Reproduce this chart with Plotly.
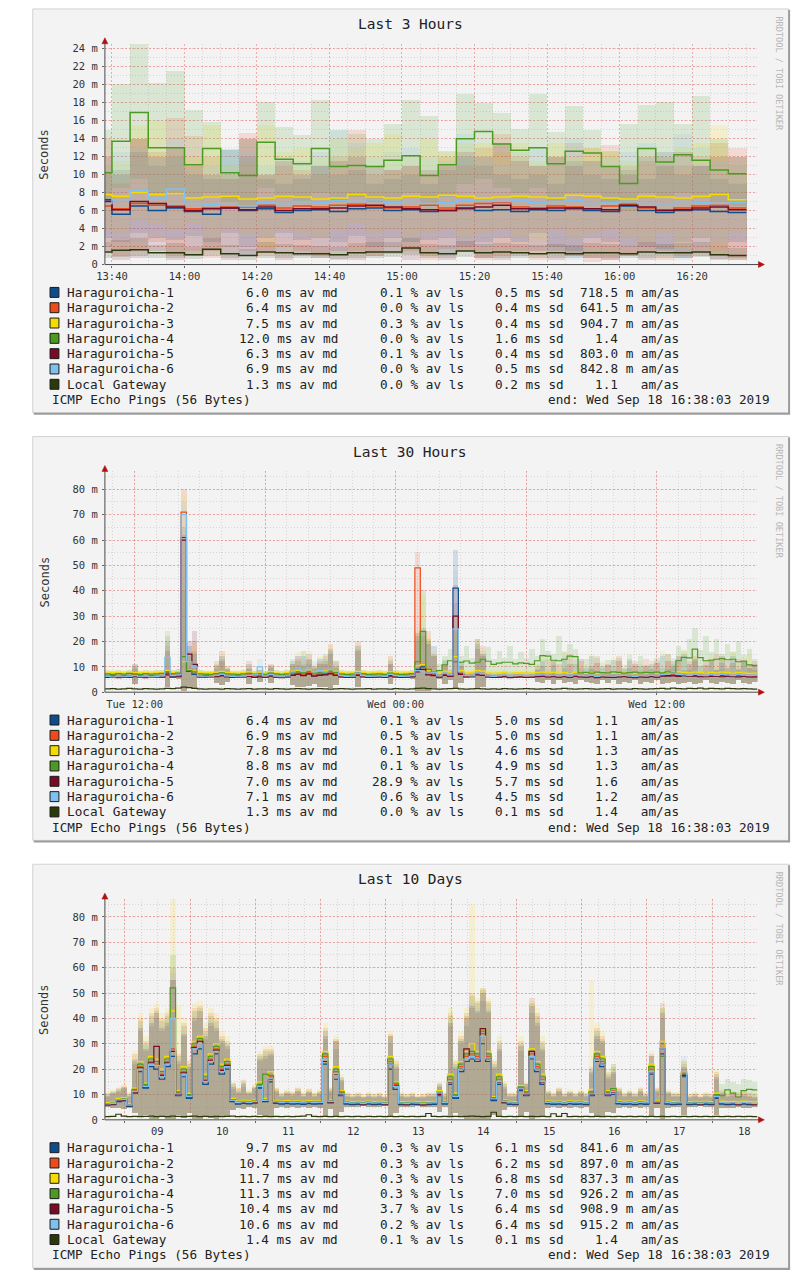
import pandas as pd
import plotly.graph_objects as go

W, H = 798, 1279
MONO = "DejaVu Sans Mono"

HOSTS = ["Haraguroicha-1", "Haraguroicha-2", "Haraguroicha-3", "Haraguroicha-4",
         "Haraguroicha-5", "Haraguroicha-6", "Local Gateway"]
COLORS = ["#0f4c8c", "#ee4a1a", "#f5dc00", "#4c9a22", "#7a0a26", "#80c0ee", "#2c3a0a"]

TITLES = ["Last 3 Hours", "Last 30 Hours", "Last 10 Days"]
FOOTER_LEFT = "ICMP Echo Pings (56 Bytes)"
FOOTER_RIGHT = "end: Wed Sep 18 16:38:03 2019"
CREDIT = "RRDTOOL / TOBI OETIKER"
Y_TITLE = "Seconds"

# ---------------- Last 3 Hours (5-minute bins, first bin 13:35) ----------------
P1_START, P1_FREQ = "2019-09-18 13:35:00", "5min"
P1_RANGE = ["2019-09-18 13:38:03", "2019-09-18 16:38:03"]
P1_TICK0 = "2019-09-18 13:40:00"
Y1_TICKS = [0, 2, 4, 6, 8, 10, 12, 14, 16, 18, 20, 22, 24]
Y1_TEXT = ["0", "2 m", "4 m", "6 m", "8 m", "10 m", "12 m", "14 m", "16 m", "18 m", "20 m", "22 m", "24 m"]

H1_3H_MED = [7.2, 5.6, 6.5, 6.0, 6.3, 5.9, 5.6, 6.3, 6.0, 6.2, 5.8, 6.0,
             6.1, 5.9, 6.2, 6.3, 6.0, 6.1, 5.9, 6.0, 6.2, 6.0, 6.1, 5.9,
             6.1, 6.0, 6.2, 6.0, 5.9, 6.5, 6.0, 5.8, 6.0, 6.1, 5.9, 5.8]
H2_3H_MED = [6.5, 6.2, 6.8, 6.6, 6.5, 6.2, 6.3, 6.5, 6.4, 6.6, 6.3, 6.5,
             6.4, 6.6, 6.7, 6.5, 6.3, 6.4, 6.6, 6.3, 6.6, 6.8, 6.9, 6.4,
             6.3, 6.5, 6.4, 6.2, 6.5, 6.7, 6.3, 6.1, 6.3, 6.5, 6.6, 6.3]
H3_3H_MED = [7.8, 7.6, 8.0, 7.8, 7.9, 7.4, 7.5, 7.6, 7.3, 7.4, 7.6, 7.5,
             7.3, 7.4, 7.8, 7.5, 7.4, 7.6, 7.5, 7.7, 7.6, 7.4, 7.5, 7.6,
             7.5, 7.4, 7.7, 7.6, 7.4, 7.3, 7.6, 7.5, 7.4, 7.6, 7.8, 7.2]
H4_3H_MED = [10.2, 13.7, 16.9, 13.0, 13.0, 11.1, 12.9, 10.2, 9.9, 13.6, 11.7, 11.2,
             12.9, 10.9, 11.0, 10.9, 11.6, 12.1, 9.9, 11.1, 14.0, 14.8, 13.4, 12.7,
             13.0, 11.2, 12.6, 12.4, 10.9, 9.0, 12.9, 11.4, 12.2, 11.6, 10.5, 10.1]
H5_3H_MED = [7.0, 6.1, 7.0, 6.8, 6.4, 6.0, 6.2, 6.3, 6.1, 6.4, 6.0, 6.2,
             6.2, 6.3, 6.5, 6.6, 6.4, 6.2, 6.1, 6.0, 6.3, 6.4, 6.6, 6.2,
             6.2, 6.3, 6.3, 6.2, 6.1, 6.6, 6.4, 6.0, 6.1, 6.3, 6.4, 6.1]
H6_3H_MED = [6.8, 7.2, 8.2, 7.3, 8.4, 6.8, 6.7, 6.6, 6.5, 6.9, 6.8, 7.0,
             6.9, 7.1, 7.0, 7.2, 6.9, 7.0, 6.8, 6.9, 7.1, 7.2, 7.0, 7.1,
             6.9, 7.0, 7.1, 6.8, 6.9, 7.0, 6.8, 6.6, 7.0, 6.9, 6.8, 6.9]
LG_3H_MED = [1.4, 1.6, 1.65, 1.3, 1.3, 1.1, 1.7, 1.2, 1.0, 1.4, 1.3, 1.2,
             1.2, 1.1, 1.3, 1.4, 1.4, 1.85, 1.3, 1.2, 1.5, 1.3, 1.4, 1.3,
             1.2, 1.3, 1.2, 1.3, 1.3, 1.2, 1.4, 1.3, 1.3, 1.4, 1.1, 1.0]

H1_3H_HI = [10.0, 10.5, 12.5, 11.0, 12.0, 10.0, 9.5, 12.8, 12.0, 9.5, 9.0, 9.5,
            11.0, 10.0, 10.5, 9.0, 9.5, 10.0, 9.0, 10.5, 12.0, 11.0, 10.0, 9.5,
            10.0, 9.0, 11.5, 10.0, 9.5, 10.5, 9.5, 12.5, 10.0, 11.0, 9.5, 9.0]
H1_3H_LO = [3.0, 2.5, 3.5, 3.0, 2.8, 3.2, 2.5, 3.5, 2.0, 3.0, 3.5, 2.8,
            3.0, 2.5, 3.2, 2.0, 3.0, 2.5, 2.8, 3.0, 2.0, 2.5, 3.0, 2.5,
            3.5, 2.0, 1.5, 3.0, 2.5, 2.2, 2.0, 1.8, 2.5, 3.0, 2.0, 2.5]
H2_3H_HI = [14.0, 9.0, 14.0, 12.5, 16.3, 14.3, 12.0, 10.0, 14.7, 10.0, 11.0, 10.5,
            10.0, 12.0, 15.0, 10.0, 10.5, 11.0, 10.0, 12.0, 11.0, 13.0, 14.5, 12.0,
            11.0, 12.0, 13.5, 13.0, 13.3, 11.0, 11.5, 12.0, 11.0, 12.0, 13.5, 13.0]
H2_3H_LO = [2.0, 1.0, 1.5, 2.5, 1.0, 1.5, 0.8, 2.0, 1.5, 1.0, 2.0, 1.5,
            1.0, 0.5, 1.5, 1.0, 2.0, 1.5, 0.5, 1.8, 1.5, 0.5, 1.0, 1.5,
            0.5, 1.5, 1.0, 0.3, 0.5, 1.0, 1.5, 0.5, 1.0, 1.5, 1.0, 0.5]
H3_3H_HI = [11.0, 11.5, 15.5, 16.0, 13.0, 12.0, 15.5, 11.0, 11.5, 15.5, 12.5, 13.0,
            12.0, 14.0, 13.0, 13.5, 14.5, 12.0, 14.0, 12.5, 13.5, 13.5, 12.5, 13.5,
            11.5, 13.5, 12.0, 13.0, 12.5, 11.5, 13.0, 12.0, 13.0, 13.5, 15.5, 11.0]
H3_3H_LO = [4.0, 3.5, 5.0, 4.5, 4.0, 4.5, 3.0, 4.0, 3.5, 2.0, 4.0, 3.5,
            3.0, 4.0, 4.5, 3.5, 4.0, 3.0, 3.5, 4.0, 3.0, 3.5, 4.0, 3.0,
            2.5, 4.0, 3.0, 3.5, 4.0, 3.0, 2.5, 3.5, 2.0, 3.0, 1.5, 3.5]
H4_3H_HI = [15.0, 20.1, 24.5, 20.2, 21.6, 17.2, 15.9, 12.9, 14.0, 18.1, 15.3, 14.4,
            18.3, 15.0, 14.5, 14.0, 15.7, 18.3, 16.6, 12.6, 19.0, 18.0, 16.9, 15.1,
            19.0, 14.8, 17.7, 15.0, 12.6, 15.6, 17.8, 18.1, 15.7, 18.8, 14.0, 12.0]
H4_3H_LO = [7.0, 8.5, 9.5, 8.0, 8.0, 7.5, 8.0, 7.0, 6.5, 8.5, 7.5, 7.0,
            8.0, 7.0, 7.5, 7.0, 7.5, 8.0, 6.5, 7.5, 9.0, 9.5, 8.5, 8.0,
            8.5, 7.0, 8.0, 8.0, 7.0, 6.0, 8.0, 7.5, 8.0, 7.5, 7.0, 6.5]
H5_3H_HI = [12.0, 10.0, 14.0, 12.0, 13.0, 11.0, 10.0, 9.5, 14.0, 10.0, 11.5, 10.0,
            11.0, 11.5, 12.0, 11.0, 10.5, 11.0, 10.5, 11.0, 12.5, 12.0, 13.5, 11.5,
            11.0, 12.0, 11.0, 11.5, 11.0, 10.0, 12.0, 11.0, 12.5, 11.0, 12.0, 12.0]
H5_3H_LO = [1.5, 0.5, 0.8, 1.5, 0.5, 1.0, 1.5, 0.5, 1.0, 1.5, 0.5, 1.0,
            0.8, 1.5, 0.5, 1.0, 1.2, 0.5, 1.0, 0.5, 1.5, 0.8, 0.5, 1.0,
            1.5, 0.5, 1.0, 0.8, 0.5, 1.0, 0.5, 1.5, 0.8, 1.0, 0.5, 0.8]
H6_3H_HI = [11.0, 12.5, 13.0, 12.0, 14.0, 10.5, 11.0, 12.8, 12.5, 11.0, 12.0, 11.5,
            12.5, 15.0, 13.5, 12.0, 12.5, 13.0, 12.0, 11.5, 14.5, 12.0, 11.0, 12.5,
            13.0, 12.0, 14.0, 11.5, 12.0, 12.5, 13.5, 12.0, 14.5, 13.0, 11.5, 11.0]
H6_3H_LO = [2.5, 3.0, 2.5, 3.5, 3.0, 2.0, 3.0, 2.0, 1.0, 3.0, 2.5, 3.0,
            2.0, 0.5, 2.5, 3.0, 2.0, 2.5, 3.0, 1.0, 2.5, 2.0, 3.0, 2.5,
            2.0, 1.5, 0.5, 2.5, 3.0, 2.0, 2.5, 1.0, 0.5, 2.0, 2.5, 3.0]
LG_3H_HI = [2.5, 2.8, 3.0, 2.2, 2.4, 2.0, 3.0, 2.2, 1.8, 2.5, 2.3, 2.2,
            2.1, 2.0, 2.4, 2.5, 2.5, 3.0, 2.3, 2.2, 2.6, 2.3, 2.4, 2.3,
            2.2, 2.3, 2.2, 2.4, 2.3, 2.2, 2.5, 2.3, 2.4, 2.5, 2.0, 1.9]
LG_3H_LO = [0.8, 0.9, 1.0, 0.8, 0.8, 0.6, 1.0, 0.7, 0.5, 0.8, 0.8, 0.7,
            0.7, 0.6, 0.8, 0.8, 0.9, 1.1, 0.8, 0.7, 0.9, 0.8, 0.8, 0.8,
            0.7, 0.8, 0.7, 0.8, 0.8, 0.7, 0.8, 0.8, 0.8, 0.9, 0.6, 0.5]

MD_3H = ["6.0", "6.4", "7.5", "12.0", "6.3", "6.9", "1.3"]
LS_3H = ["0.1", "0.0", "0.3", "0.0", "0.1", "0.0", "0.0"]
SD_3H = ["0.5", "0.4", "0.4", "1.6", "0.4", "0.5", "0.2"]
AM_3H = ["718.5", "641.5", "904.7", "1.4", "803.0", "842.8", "1.1"]
AMU_3H = ["m", "m", "m", "", "m", "m", ""]

# ---------------- Last 30 Hours (15-minute bins) ----------------
P2_START, P2_FREQ = "2019-09-17 10:38:03", "15min"
P2_RANGE = ["2019-09-17 10:38:03", "2019-09-18 16:38:03"]
P2_TICKS = ["2019-09-17 12:00", "2019-09-17 18:00", "2019-09-18 00:00", "2019-09-18 06:00", "2019-09-18 12:00"]
P2_TICKTEXT = ["Tue 12:00", "", "Wed 00:00", "", "Wed 12:00"]
Y2_TICKS = [0, 10, 20, 30, 40, 50, 60, 70, 80]
Y2_TEXT = ["0", "10 m", "20 m", "30 m", "40 m", "50 m", "60 m", "70 m", "80 m"]

H1_30H_MED = [6.0, 5.9, 6.1, 5.8, 6.0, 6.3, 5.9, 6.0, 5.8, 6.1, 6.0, 7.5, 6.2, 6.4, 61.0, 8.2, 7.0, 6.1, 6.0, 5.9,
              6.3, 6.6, 6.2, 6.0, 5.9, 6.1, 6.4, 6.0, 6.3, 5.9, 6.5, 6.0, 5.8, 6.1, 6.8, 7.2, 6.7, 7.4, 6.5, 6.9,
              7.0, 7.5, 6.9, 6.1, 5.9, 6.0, 6.8, 6.2, 5.9, 6.0, 6.1, 5.9, 6.5, 6.1, 5.9, 6.0, 6.2, 9.0, 10.0, 7.2,
              6.8, 6.1, 6.9, 6.4, 41.0, 7.5, 6.1, 6.2, 7.2, 6.9, 6.1, 5.9, 6.0, 6.2, 5.8, 6.0, 6.1, 5.9, 6.0, 6.2,
              6.4, 6.1, 6.3, 6.0, 6.2, 5.9, 6.3, 6.1, 6.0, 6.2, 5.8, 6.1, 6.0, 5.9, 6.1, 6.2, 6.0, 5.8, 6.1, 6.0,
              6.2, 6.0, 6.5, 6.3, 6.8, 6.6, 6.4, 6.2, 6.5, 6.3, 6.1, 6.4, 6.2, 6.5, 6.3, 6.1, 6.4, 6.2, 6.0, 6.1]
H2_30H_MED = [6.3, 6.5, 6.2, 6.4, 6.3, 6.7, 6.4, 6.2, 6.5, 6.3, 6.4, 7.9, 6.6, 6.8, 71.0, 9.0, 7.4, 6.3, 6.5, 6.2,
              6.7, 7.0, 6.4, 6.3, 6.4, 6.2, 6.8, 6.4, 6.5, 6.3, 6.9, 6.2, 6.1, 6.5, 7.2, 7.5, 7.1, 7.8, 6.7, 7.2,
              7.4, 7.9, 7.0, 6.3, 6.2, 6.4, 7.1, 6.3, 6.2, 6.4, 6.3, 6.2, 6.9, 6.3, 6.2, 6.4, 6.6, 49.0, 11.0, 7.6,
              7.1, 6.3, 7.2, 6.6, 12.0, 7.7, 6.3, 6.5, 7.5, 7.0, 6.4, 6.2, 6.4, 6.5, 6.1, 6.3, 6.5, 6.2, 6.4, 6.5,
              6.7, 6.3, 6.6, 6.2, 6.5, 6.3, 6.6, 6.3, 6.4, 6.5, 6.1, 6.4, 6.2, 6.3, 6.5, 6.4, 6.3, 6.1, 6.4, 6.3,
              6.6, 6.3, 6.8, 6.5, 7.1, 6.9, 6.6, 6.4, 6.8, 6.6, 6.3, 6.7, 6.5, 6.9, 6.6, 6.4, 6.8, 6.5, 6.3, 6.4]
H3_30H_MED = [7.6, 7.8, 7.7, 7.5, 7.9, 7.8, 7.6, 7.7, 7.5, 7.8, 7.7, 8.6, 7.8, 8.0, 12.0, 8.8, 8.4, 7.8, 7.6, 7.7,
              7.9, 8.2, 7.8, 7.6, 7.5, 7.7, 8.0, 7.6, 7.9, 7.5, 8.1, 7.6, 7.4, 7.7, 8.3, 8.6, 8.2, 8.8, 8.0, 8.3,
              8.4, 8.9, 8.3, 7.7, 7.5, 7.6, 8.2, 7.8, 7.5, 7.6, 7.7, 7.5, 8.0, 7.7, 7.5, 7.6, 7.8, 10.5, 11.0, 8.5,
              8.2, 7.6, 8.3, 7.9, 14.0, 8.6, 7.6, 7.8, 8.5, 8.3, 7.6, 7.5, 7.6, 7.8, 7.4, 7.6, 7.7, 7.5, 7.6, 7.8,
              7.9, 7.6, 7.8, 7.5, 7.7, 7.4, 7.8, 7.6, 7.5, 7.7, 7.3, 7.6, 7.5, 7.4, 7.6, 7.7, 7.5, 7.3, 7.6, 7.5,
              7.7, 7.5, 7.9, 7.8, 8.1, 8.0, 7.8, 7.6, 7.9, 7.7, 7.5, 7.8, 7.6, 7.9, 7.7, 7.5, 7.8, 7.6, 7.4, 7.5]
H4_30H_MED = [7.2, 7.0, 7.3, 7.1, 7.4, 7.2, 7.0, 7.3, 7.1, 7.2, 7.4, 8.0, 7.3, 7.5, 14.0, 8.5, 8.0, 7.2, 7.1, 7.0,
              7.3, 7.6, 7.2, 7.1, 7.0, 7.2, 7.4, 7.1, 7.3, 7.0, 7.5, 7.2, 7.0, 7.2, 7.8, 8.0, 7.6, 8.2, 7.5, 7.8,
              7.9, 8.3, 7.7, 7.2, 7.0, 7.1, 7.6, 7.3, 7.0, 7.1, 7.2, 7.0, 7.5, 7.2, 7.0, 7.1, 7.3, 12.0, 24.0, 9.0,
              8.0, 8.5, 10.8, 12.4, 12.0, 11.8, 12.3, 11.5, 11.8, 13.0, 12.2, 11.0, 11.5, 11.8, 11.8, 11.2, 11.6, 11.4, 11.0, 12.4,
              14.4, 14.2, 12.6, 12.4, 13.0, 14.2, 14.0, 7.6, 7.8, 7.5, 7.9, 7.7, 7.6, 8.0, 7.8, 7.5, 7.7, 7.9, 7.6, 7.8,
              7.7, 7.9, 7.6, 8.0, 7.8, 12.4, 13.7, 13.5, 17.0, 13.6, 12.4, 12.6, 13.0, 13.2, 12.8, 13.0, 12.0, 12.2, 10.8, 10.5]
H5_30H_MED = [5.8, 5.9, 5.7, 6.0, 5.8, 6.1, 5.9, 5.7, 5.8, 6.0, 5.9, 6.8, 5.9, 6.1, 60.0, 15.0, 11.0, 6.0, 5.8, 5.9,
              6.1, 6.4, 6.0, 5.8, 5.9, 6.0, 6.2, 5.8, 6.0, 5.9, 6.3, 5.9, 5.7, 6.0, 6.6, 7.0, 6.5, 7.1, 6.3, 6.6,
              6.8, 7.2, 6.6, 6.0, 5.8, 5.9, 6.6, 6.0, 5.8, 5.9, 6.0, 5.8, 6.3, 6.0, 5.8, 5.9, 6.0, 8.0, 9.0, 6.8,
              6.5, 5.9, 6.6, 6.2, 30.0, 7.0, 6.0, 6.1, 6.8, 6.6, 6.0, 5.8, 5.9, 6.1, 5.7, 5.9, 6.0, 5.8, 5.9, 6.1,
              6.2, 6.0, 6.1, 5.9, 6.1, 5.8, 6.2, 6.0, 5.9, 6.1, 5.7, 6.0, 5.9, 5.8, 6.0, 6.1, 5.9, 5.7, 6.0, 5.9,
              6.1, 5.9, 6.3, 6.5, 6.4, 6.2, 6.6, 6.4, 6.3, 6.1, 6.3, 6.2, 6.4, 6.1, 6.3, 6.2, 6.0, 6.2, 6.1, 6.0]
H6_30H_MED = [6.2, 6.0, 6.3, 6.1, 6.2, 6.5, 6.1, 6.3, 6.0, 6.2, 6.4, 13.7, 6.5, 6.8, 70.0, 12.0, 10.0, 6.3, 6.1, 6.0,
              6.6, 7.0, 6.4, 6.2, 6.1, 6.3, 6.6, 6.8, 10.0, 6.4, 6.9, 6.3, 6.1, 6.4, 8.0, 9.5, 8.2, 9.8, 8.0, 8.6,
              8.0, 9.0, 8.2, 6.5, 6.2, 6.3, 7.5, 6.5, 6.2, 6.3, 6.4, 6.2, 7.0, 6.5, 6.2, 6.3, 6.5, 8.5, 8.0, 7.5,
              7.8, 6.4, 7.5, 6.8, 25.0, 8.0, 6.5, 6.4, 7.6, 7.2, 6.4, 6.2, 6.5, 6.7, 6.3, 6.5, 6.6, 6.4, 6.5, 6.7,
              6.8, 6.5, 6.7, 6.4, 6.6, 6.3, 6.8, 6.5, 6.4, 6.6, 6.2, 6.5, 6.4, 6.3, 6.5, 6.6, 6.4, 6.2, 6.5, 6.4,
              6.6, 6.4, 6.9, 7.2, 7.5, 7.0, 6.8, 6.6, 7.0, 6.7, 6.5, 6.9, 6.6, 7.0, 6.8, 6.5, 7.0, 6.7, 6.5, 6.6]
LG_30H_MED = [1.3, 1.4, 1.2, 1.3, 1.5, 1.3, 1.2, 1.4, 1.3, 1.2, 1.3, 1.5, 1.4, 1.6, 2.0, 1.8, 1.5, 1.3, 1.2, 1.3,
              1.3, 1.2, 1.4, 1.3, 1.2, 1.3, 1.4, 1.2, 1.3, 1.3, 1.2, 1.4, 1.3, 1.2, 1.3, 1.4, 1.3, 1.2, 1.3, 1.4,
              1.3, 1.2, 1.3, 1.4, 1.3, 1.2, 1.3, 1.3, 1.4, 1.2, 1.3, 1.3, 1.2, 1.4, 1.3, 1.2, 1.3, 1.5, 1.6, 1.4,
              1.3, 1.2, 1.3, 1.4, 1.5, 1.3, 1.2, 1.3, 1.4, 1.3, 1.2, 1.3, 1.2, 1.4, 1.3, 1.2, 1.3, 1.4, 1.3, 1.2,
              1.3, 1.4, 1.2, 1.3, 1.5, 1.3, 1.2, 1.3, 1.4, 1.3, 1.2, 1.3, 1.4, 1.2, 1.3, 1.3, 1.2, 1.4, 1.3, 1.2,
              1.3, 1.4, 1.5, 1.3, 1.6, 1.4, 1.3, 1.5, 1.4, 1.6, 1.3, 1.5, 1.4, 1.3, 1.5, 1.4, 1.3, 1.4, 1.3, 1.2]

H1_30H_HI = [7.2, 7.1, 7.3, 7.0, 7.2, 11.0, 7.1, 7.2, 7.0, 7.3, 7.2, 20.0, 7.4, 7.8, 65.0, 18.0, 15.0, 7.3, 7.1, 7.0,
             9.0, 14.0, 8.5, 7.1, 7.0, 7.2, 11.0, 7.1, 8.5, 7.0, 10.0, 7.1, 6.9, 7.2, 12.0, 10.5, 14.0, 11.0, 9.0, 13.0,
             12.0, 17.0, 10.0, 7.2, 7.0, 7.1, 18.0, 7.3, 7.0, 7.1, 7.2, 7.0, 12.0, 7.2, 7.0, 7.1, 7.4, 22.0, 25.0, 20.0,
             18.0, 7.2, 12.0, 8.0, 56.0, 12.0, 7.2, 7.3, 19.0, 15.0, 7.2, 7.0, 7.1, 7.3, 6.9, 7.1, 7.2, 7.0, 7.1, 9.0,
             12.0, 7.5, 10.5, 7.2, 13.0, 8.0, 11.0, 7.4, 9.5, 14.0, 7.1, 10.0, 7.5, 12.5, 7.4, 9.0, 13.0, 7.2, 10.0, 8.0,
             11.0, 7.5, 14.0, 9.0, 12.0, 8.0, 15.0, 8.5, 12.0, 10.0, 8.0, 13.0, 8.5, 11.5, 8.0, 14.0, 9.0, 12.0, 9.5, 8.5]
H2_30H_HI = [7.6, 7.5, 7.7, 7.4, 7.6, 10.0, 7.5, 7.6, 7.4, 7.7, 7.6, 18.0, 7.8, 8.1, 80.0, 16.0, 20.0, 7.6, 7.5, 7.4,
             12.0, 16.0, 10.0, 7.5, 7.4, 7.6, 12.0, 7.5, 8.5, 7.4, 11.0, 7.5, 7.3, 7.6, 10.0, 13.0, 11.0, 15.0, 10.0, 12.0,
             14.0, 19.0, 12.0, 7.6, 7.4, 7.5, 20.0, 7.7, 7.4, 7.5, 7.6, 7.4, 14.0, 7.6, 7.4, 7.5, 7.8, 55.0, 22.0, 24.0,
             15.0, 7.6, 11.0, 8.5, 35.0, 10.0, 7.6, 7.7, 21.0, 18.0, 7.6, 7.4, 7.5, 7.7, 7.3, 7.5, 7.6, 7.4, 7.6, 10.0,
             8.0, 13.0, 7.8, 11.0, 7.6, 15.0, 8.0, 12.0, 7.6, 10.0, 13.5, 7.6, 11.0, 7.8, 14.0, 8.0, 7.6, 12.0, 8.5, 13.0,
             7.8, 12.0, 8.0, 15.0, 9.0, 13.0, 7.8, 12.0, 14.0, 8.0, 12.5, 7.8, 15.0, 9.0, 12.0, 8.0, 13.0, 7.8, 11.0, 12.0]
H3_30H_HI = [8.6, 8.5, 8.7, 8.4, 8.8, 10.5, 8.5, 8.6, 8.4, 8.7, 8.6, 24.0, 8.7, 9.0, 78.0, 15.0, 18.0, 8.6, 8.4, 8.5,
             11.0, 15.0, 10.0, 8.5, 8.4, 8.6, 10.5, 8.4, 9.0, 8.4, 10.0, 8.5, 8.3, 8.6, 13.0, 15.5, 12.0, 16.0, 11.0, 14.0,
             13.0, 18.0, 11.0, 8.6, 8.4, 8.5, 19.0, 8.7, 8.4, 8.5, 8.6, 8.4, 13.5, 8.6, 8.4, 8.5, 8.7, 24.0, 38.0, 22.0,
             16.0, 8.5, 13.0, 9.0, 30.0, 11.0, 8.5, 8.7, 20.0, 17.0, 8.5, 8.4, 8.5, 8.7, 8.3, 8.5, 8.6, 8.4, 8.5, 11.0,
             14.0, 8.8, 12.0, 9.0, 16.0, 8.8, 13.0, 8.6, 11.0, 15.0, 8.7, 12.0, 8.8, 13.5, 8.6, 11.0, 15.0, 8.7, 12.0, 9.0,
             12.5, 8.8, 16.0, 10.0, 13.0, 9.0, 17.0, 9.5, 13.5, 10.0, 8.8, 14.5, 9.5, 13.0, 8.8, 16.0, 10.0, 13.5, 15.0, 9.0]
H4_30H_HI = [8.4, 8.2, 8.5, 8.3, 8.6, 10.5, 8.2, 8.5, 8.3, 8.4, 8.6, 22.0, 8.5, 8.8, 40.0, 14.0, 16.0, 8.4, 8.3, 8.2,
             10.5, 13.0, 9.5, 8.3, 8.2, 8.4, 9.5, 8.3, 8.6, 8.2, 10.5, 8.4, 8.2, 8.4, 11.0, 12.0, 16.0, 12.5, 10.0, 11.5,
             15.0, 16.0, 12.0, 8.4, 8.2, 8.3, 17.0, 8.5, 8.2, 8.3, 8.4, 8.2, 11.0, 8.4, 8.2, 8.3, 8.5, 20.0, 40.0, 21.0,
             14.0, 11.0, 14.0, 17.0, 24.0, 14.0, 18.0, 13.5, 21.0, 15.0, 17.5, 13.0, 16.0, 13.5, 18.0, 13.0, 15.5, 13.2, 17.0, 14.0,
             21.0, 16.0, 15.0, 22.0, 15.5, 19.0, 17.0, 9.5, 13.0, 10.0, 14.0, 9.5, 12.5, 10.0, 13.5, 9.5, 12.0, 10.0, 14.0, 10.5,
             10.0, 13.5, 9.5, 15.0, 11.0, 18.0, 16.0, 21.0, 25.0, 16.5, 22.0, 15.5, 21.0, 15.0, 19.0, 15.5, 20.0, 14.5, 17.0, 13.0]
H5_30H_HI = [7.0, 6.9, 7.1, 6.8, 7.0, 9.0, 6.9, 7.0, 6.8, 7.1, 7.0, 16.0, 7.1, 7.4, 62.0, 20.0, 24.0, 7.0, 6.9, 6.8,
             10.0, 12.0, 9.0, 6.9, 6.8, 7.0, 9.0, 6.9, 8.0, 6.8, 9.5, 6.9, 6.7, 7.0, 11.0, 14.0, 10.0, 13.0, 9.5, 11.0,
             11.0, 15.0, 9.5, 7.0, 6.8, 6.9, 16.0, 7.1, 6.8, 6.9, 7.0, 6.8, 11.0, 7.0, 6.8, 6.9, 7.2, 23.0, 24.0, 19.0,
             14.0, 7.0, 10.0, 8.0, 42.0, 10.0, 7.0, 7.1, 17.0, 14.0, 7.0, 6.8, 6.9, 7.1, 6.7, 6.9, 7.0, 6.8, 6.9, 8.5,
             10.0, 7.8, 12.0, 7.2, 9.5, 11.0, 7.4, 13.0, 7.2, 9.0, 11.5, 7.3, 10.5, 7.4, 12.0, 7.2, 9.5, 11.0, 7.4, 10.0,
             9.0, 11.5, 7.5, 12.0, 10.0, 14.0, 8.5, 11.0, 13.0, 8.0, 10.5, 12.0, 8.5, 14.0, 9.5, 11.5, 8.5, 12.5, 9.5, 11.0]
H6_30H_HI = [7.6, 7.4, 7.7, 7.5, 7.6, 10.0, 7.5, 7.7, 7.4, 7.6, 7.8, 24.0, 7.9, 8.2, 75.0, 18.0, 14.0, 7.7, 7.5, 7.4,
             11.0, 14.0, 9.0, 7.6, 7.5, 7.7, 10.0, 8.2, 13.0, 7.8, 10.0, 7.7, 7.5, 7.8, 13.0, 14.0, 13.0, 15.0, 12.0, 13.5,
             13.0, 16.0, 11.5, 7.9, 7.6, 7.7, 18.0, 7.9, 7.6, 7.7, 7.8, 7.6, 13.0, 7.9, 7.6, 7.7, 7.9, 20.0, 22.0, 18.0,
             15.0, 7.8, 12.5, 9.0, 48.0, 12.0, 7.9, 7.8, 18.0, 16.0, 7.8, 7.6, 7.9, 8.1, 7.7, 7.9, 8.0, 7.8, 7.9, 10.5,
             13.0, 8.5, 11.0, 8.0, 14.0, 8.5, 12.5, 8.2, 10.0, 13.0, 8.0, 11.5, 8.5, 12.0, 8.2, 10.5, 14.5, 8.0, 11.0, 8.5,
             12.0, 8.5, 15.0, 9.5, 13.5, 9.0, 14.0, 9.5, 12.5, 10.5, 8.5, 13.0, 9.5, 12.0, 8.5, 13.5, 10.0, 12.0, 11.0, 9.5]
SMOKE_LO_30H = [5.4, 5.5, 5.3, 5.4, 5.5, 3.0, 5.4, 5.5, 5.3, 5.4, 5.5, 2.0, 5.4, 5.0, 0.5, 2.0, 1.5, 5.4, 5.5, 5.3,
                3.5, 2.5, 3.8, 5.4, 5.5, 5.3, 3.0, 5.4, 4.0, 5.5, 3.5, 5.4, 5.5, 5.3, 2.5, 2.0, 1.8, 2.2, 3.0, 2.0,
                2.0, 1.5, 2.5, 5.4, 5.5, 5.3, 1.8, 5.4, 5.5, 5.3, 5.4, 5.5, 3.0, 5.4, 5.5, 5.3, 5.0, 0.3, 0.2, 0.5,
                1.5, 5.2, 3.0, 4.5, 1.0, 3.5, 5.4, 5.3, 1.5, 2.0, 5.4, 5.5, 5.3, 5.4, 5.5, 5.3, 5.4, 5.5, 5.3, 4.0,
                3.5, 4.5, 3.0, 4.5, 3.5, 4.0, 3.0, 4.5, 4.0, 3.5, 3.0, 4.5, 3.5, 4.5, 3.0, 4.0, 3.5, 4.5, 3.0, 4.0,
                3.5, 4.5, 3.0, 3.5, 4.0, 3.0, 3.5, 4.0, 3.0, 3.5, 4.5, 3.5, 3.0, 4.0, 3.5, 3.0, 4.5, 3.5, 3.0, 4.0]

MD_30H = ["6.4", "6.9", "7.8", "8.8", "7.0", "7.1", "1.3"]
LS_30H = ["0.1", "0.5", "0.1", "0.1", "28.9", "0.6", "0.0"]
SD_30H = ["5.0", "5.0", "4.6", "4.9", "5.7", "4.5", "0.1"]
AM_30H = ["1.1", "1.1", "1.3", "1.3", "1.6", "1.2", "1.4"]
AMU_30H = ["", "", "", "", "", "", ""]

# ---------------- Last 10 Days (2-hour bins) ----------------
P3_START, P3_FREQ = "2019-09-08 16:38:03", "2h"
P3_RANGE = ["2019-09-08 16:38:03", "2019-09-18 16:38:03"]
P3_DAYS = ["2019-09-09", "2019-09-10", "2019-09-11", "2019-09-12", "2019-09-13",
           "2019-09-14", "2019-09-15", "2019-09-16", "2019-09-17", "2019-09-18"]
P3_DAY_LABELS = ["09", "10", "11", "12", "13", "14", "15", "16", "17", "18"]

H1_10D_MED = [5.8, 6.0, 7.2, 7.5, 5.3, 10.5, 19.0, 12.5, 21.0, 20.0,
              16.0, 21.0, 25.0, 9.5, 17.0, 8.5, 26.0, 28.0, 14.0, 22.0,
              26.0, 18.0, 20.0, 7.2, 6.2, 6.5, 6.3, 6.6, 12.5, 7.2,
              15.0, 6.5, 6.2, 6.4, 6.2, 6.3, 6.1, 6.4, 6.2, 6.3,
              22.0, 6.7, 16.0, 9.5, 6.2, 6.0, 6.1, 5.9, 6.2, 6.0,
              6.1, 5.9, 20.0, 12.0, 6.0, 5.9, 6.1, 6.0, 5.8, 6.0,
              6.1, 9.5, 6.2, 14.0, 8.5, 19.0, 23.0, 24.0, 23.0, 30.0,
              23.0, 7.6, 14.0, 6.7, 6.1, 6.0, 11.5, 9.5, 24.0, 19.0,
              14.0, 6.3, 6.1, 6.2, 6.0, 6.3, 6.1, 6.2, 6.0, 9.5,
              23.0, 21.0, 9.5, 10.0, 6.3, 6.1, 6.2, 6.0, 6.3, 6.1,
              18.0, 6.5, 26.0, 6.2, 6.0, 6.1, 17.0, 6.0, 6.1, 5.9,
              6.1, 6.0, 8.5, 6.2, 6.0, 6.1, 5.9, 6.2, 6.0, 5.9]
H2_10D_MED = [6.2, 6.4, 7.8, 8.0, 5.7, 11.5, 21.0, 13.5, 23.0, 22.0,
              18.0, 23.0, 28.0, 10.5, 19.0, 9.5, 29.0, 31.0, 16.0, 24.0,
              28.0, 20.0, 22.0, 7.8, 6.7, 7.0, 6.8, 7.1, 13.5, 7.8,
              17.0, 7.0, 6.7, 6.9, 6.7, 6.8, 6.6, 6.9, 6.7, 6.8,
              25.0, 7.2, 19.0, 10.5, 6.7, 6.5, 6.6, 6.4, 6.7, 6.5,
              6.6, 6.4, 23.0, 14.0, 6.5, 6.4, 6.6, 6.5, 6.3, 6.5,
              6.6, 10.5, 6.7, 16.0, 9.5, 21.0, 25.0, 26.0, 25.0, 34.0,
              25.0, 8.4, 16.0, 7.2, 6.6, 6.5, 12.5, 10.5, 26.0, 21.0,
              16.0, 6.8, 6.6, 6.7, 6.5, 6.8, 6.6, 6.7, 6.5, 10.5,
              25.0, 23.0, 10.5, 11.5, 6.8, 6.6, 6.7, 6.5, 6.8, 6.6,
              20.0, 7.0, 30.0, 6.7, 6.5, 6.6, 18.5, 6.5, 6.6, 6.4,
              6.6, 6.5, 9.5, 6.7, 6.5, 6.6, 6.4, 6.7, 6.5, 6.4]
H3_10D_MED = [6.8, 7.0, 8.5, 8.8, 6.3, 12.5, 23.0, 14.5, 25.0, 24.0,
              20.0, 25.0, 43.0, 11.5, 21.0, 10.5, 31.0, 33.0, 18.0, 26.0,
              30.0, 22.0, 24.0, 8.5, 7.4, 7.7, 7.5, 7.8, 15.0, 8.5,
              19.0, 7.7, 7.4, 7.6, 7.4, 7.5, 7.3, 7.6, 7.4, 7.5,
              27.0, 7.9, 21.0, 11.5, 7.4, 7.2, 7.3, 7.1, 7.4, 7.2,
              7.3, 7.1, 25.0, 15.0, 7.2, 7.1, 7.3, 7.2, 7.0, 7.2,
              7.3, 11.5, 7.4, 18.0, 10.5, 23.0, 27.0, 30.0, 27.0, 36.0,
              27.0, 9.2, 18.0, 7.9, 7.3, 7.2, 13.5, 11.5, 28.0, 23.0,
              18.0, 7.5, 7.3, 7.4, 7.2, 7.5, 7.3, 7.4, 7.2, 12.0,
              27.0, 25.0, 11.5, 12.5, 7.5, 7.3, 7.4, 7.2, 7.5, 7.3,
              22.0, 7.7, 31.0, 7.4, 7.2, 7.3, 19.0, 7.2, 7.3, 7.1,
              7.3, 7.2, 10.5, 7.4, 7.2, 7.3, 7.1, 7.4, 7.2, 7.1]
H4_10D_MED = [6.4, 6.6, 8.0, 8.3, 5.9, 12.0, 22.0, 14.0, 24.0, 23.0,
              19.0, 24.0, 52.0, 11.0, 20.0, 10.0, 30.0, 32.0, 17.0, 25.0,
              29.0, 21.0, 23.0, 8.0, 7.0, 7.3, 7.1, 7.4, 14.0, 18.0,
              17.5, 7.3, 7.0, 7.2, 7.0, 7.1, 6.9, 7.2, 7.0, 7.1,
              26.0, 7.5, 20.0, 11.0, 7.0, 6.8, 6.9, 6.7, 7.0, 6.8,
              6.9, 6.7, 24.0, 14.5, 6.8, 6.7, 6.9, 6.8, 6.6, 6.8,
              6.9, 11.0, 7.0, 17.0, 10.0, 22.0, 26.0, 27.0, 26.0, 35.0,
              26.0, 8.8, 17.0, 7.5, 6.9, 6.8, 13.0, 11.0, 27.0, 22.0,
              17.0, 7.1, 6.9, 7.0, 6.8, 7.1, 6.9, 7.0, 6.8, 11.0,
              26.0, 24.0, 11.0, 12.4, 7.1, 6.9, 7.0, 6.8, 7.1, 6.9,
              21.0, 7.3, 25.0, 7.0, 6.8, 6.9, 18.0, 6.8, 6.9, 6.7,
              6.9, 6.8, 10.0, 9.5, 11.8, 10.5, 9.0, 11.5, 12.0, 11.8]
H5_10D_MED = [6.1, 6.3, 7.6, 7.9, 5.6, 11.0, 20.5, 13.0, 22.5, 29.0,
              17.5, 22.5, 27.0, 10.0, 18.5, 9.0, 28.5, 31.0, 15.5, 23.5,
              27.5, 19.5, 21.5, 7.6, 6.6, 6.9, 6.7, 7.0, 13.0, 7.6,
              16.0, 6.9, 6.6, 6.8, 6.6, 6.7, 6.5, 6.8, 6.6, 6.7,
              23.0, 7.1, 18.0, 10.0, 6.6, 6.4, 6.5, 6.3, 6.6, 6.4,
              6.5, 6.3, 22.0, 13.5, 6.4, 6.3, 6.5, 6.4, 6.2, 6.4,
              6.5, 10.0, 6.6, 15.0, 9.0, 20.0, 28.0, 25.0, 24.0, 36.0,
              24.0, 8.1, 15.0, 7.1, 6.5, 6.4, 12.0, 10.0, 27.0, 20.0,
              15.0, 6.7, 6.5, 6.6, 6.4, 6.7, 6.5, 6.6, 6.4, 10.0,
              24.0, 22.0, 10.0, 11.0, 6.7, 6.5, 6.6, 6.4, 6.7, 6.5,
              19.0, 6.9, 28.0, 6.6, 6.4, 6.5, 17.5, 6.4, 6.5, 6.3,
              6.5, 6.4, 9.0, 6.6, 6.4, 6.5, 6.3, 6.6, 6.4, 6.3]
H6_10D_MED = [6.3, 6.5, 7.9, 8.1, 5.8, 11.2, 20.0, 13.2, 22.0, 21.5,
              17.0, 22.0, 40.0, 10.2, 18.0, 9.2, 28.0, 30.0, 15.2, 23.0,
              27.0, 19.0, 21.0, 7.7, 6.8, 7.1, 6.9, 7.2, 13.2, 7.7,
              16.2, 7.1, 6.8, 7.0, 6.8, 6.9, 6.7, 7.0, 6.8, 6.9,
              24.0, 7.3, 18.2, 10.2, 6.8, 6.6, 6.7, 6.5, 6.8, 6.6,
              6.7, 6.5, 22.0, 13.2, 6.6, 6.5, 6.7, 6.6, 6.4, 6.6,
              6.7, 11.0, 6.8, 15.2, 9.2, 20.0, 24.0, 25.0, 24.0, 33.0,
              24.0, 8.3, 15.2, 7.3, 6.7, 6.6, 12.2, 10.2, 25.0, 20.0,
              15.2, 6.9, 6.7, 6.8, 6.6, 6.9, 6.7, 6.8, 6.6, 10.2,
              24.0, 22.0, 10.2, 11.2, 6.9, 6.7, 6.8, 6.6, 6.9, 6.7,
              19.0, 7.1, 28.0, 6.8, 6.6, 6.7, 19.0, 6.6, 6.7, 6.5,
              6.7, 6.6, 9.2, 6.8, 6.6, 6.7, 6.5, 6.8, 6.6, 6.5]
LG_10D_MED = [1.3, 1.4, 2.2, 1.5, 1.3, 1.4, 1.3, 1.4, 1.5, 1.3,
              1.4, 1.3, 1.5, 1.4, 1.3, 1.4, 1.5, 1.3, 1.4, 1.3,
              1.4, 1.3, 1.4, 1.5, 1.3, 1.4, 1.3, 1.4, 1.3, 1.4,
              1.3, 1.4, 1.3, 1.4, 1.3, 1.4, 1.5, 2.0, 1.4, 1.3,
              1.4, 1.3, 1.4, 1.3, 1.4, 1.3, 1.4, 1.3, 1.4, 1.3,
              1.4, 1.3, 1.4, 1.3, 1.4, 1.3, 1.4, 1.3, 1.4, 2.5,
              1.4, 1.3, 1.4, 1.3, 1.4, 1.3, 1.4, 1.5, 1.4, 1.3,
              1.4, 3.0, 1.4, 1.3, 1.4, 1.3, 1.4, 1.3, 1.4, 1.3,
              1.4, 1.3, 2.4, 1.4, 2.5, 1.3, 1.4, 1.3, 1.4, 1.3,
              1.4, 1.3, 1.4, 1.3, 1.4, 1.3, 1.4, 1.3, 1.4, 1.3,
              1.4, 1.3, 1.4, 1.3, 1.4, 1.3, 1.4, 1.3, 1.4, 1.3,
              1.4, 1.3, 1.4, 1.3, 1.4, 1.3, 1.4, 1.3, 1.4, 1.3]

H1_10D_HI = [9.0, 10.0, 11.0, 12.0, 9.0, 22.0, 35.0, 27.0, 37.0, 40.0,
             35.0, 37.0, 55.0, 22.0, 33.0, 20.0, 39.0, 40.0, 32.0, 37.0,
             35.0, 30.0, 28.0, 12.0, 10.5, 13.0, 10.0, 12.0, 23.0, 24.0,
             25.0, 11.0, 9.0, 10.0, 9.5, 11.0, 9.0, 10.5, 9.0, 10.0,
             32.0, 11.0, 28.0, 15.0, 9.0, 8.5, 9.0, 8.5, 9.0, 8.5,
             9.0, 8.5, 30.0, 20.0, 9.0, 8.5, 9.0, 8.5, 8.5, 9.0,
             9.0, 13.0, 9.0, 37.0, 20.0, 30.0, 37.0, 44.0, 42.0, 47.0,
             42.0, 20.0, 27.0, 12.0, 9.0, 9.0, 27.0, 13.0, 42.0, 37.0,
             27.0, 10.0, 9.0, 11.0, 9.0, 10.0, 9.0, 10.0, 9.0, 18.0,
             32.0, 30.0, 16.0, 18.0, 11.0, 9.0, 10.0, 9.0, 11.0, 9.0,
             22.0, 11.0, 40.0, 10.0, 9.0, 9.0, 20.0, 8.5, 9.0, 8.5,
             9.0, 8.5, 16.0, 10.0, 9.0, 9.5, 9.0, 9.5, 9.0, 8.5]
H2_10D_HI = [10.5, 11.5, 12.5, 13.5, 10.5, 26.0, 40.0, 31.0, 42.0, 44.0,
             40.0, 42.0, 60.0, 26.0, 38.0, 23.0, 44.0, 45.0, 36.0, 42.0,
             40.0, 33.0, 31.0, 14.5, 12.5, 15.5, 11.5, 13.5, 26.0, 28.0,
             28.0, 12.5, 10.5, 11.5, 11.0, 12.5, 10.5, 12.0, 10.5, 11.5,
             36.0, 12.5, 32.0, 17.0, 10.5, 10.0, 10.5, 9.5, 10.5, 10.0,
             10.5, 9.5, 34.0, 23.0, 10.5, 10.0, 10.5, 9.5, 10.0, 10.5,
             10.5, 14.5, 10.5, 42.0, 23.0, 33.0, 42.0, 50.0, 47.0, 52.0,
             47.0, 23.0, 31.0, 14.5, 10.5, 10.5, 31.0, 14.5, 48.0, 42.0,
             31.0, 11.5, 10.5, 12.5, 10.5, 11.5, 10.5, 11.5, 10.5, 21.0,
             36.0, 33.0, 19.0, 21.0, 12.5, 10.5, 11.5, 10.5, 12.5, 10.5,
             26.0, 12.5, 46.0, 11.5, 10.5, 10.5, 23.0, 10.0, 10.5, 9.5,
             10.5, 10.0, 19.0, 11.5, 10.5, 11.0, 10.5, 11.0, 10.5, 10.0]
H3_10D_HI = [11.0, 12.0, 13.0, 14.0, 11.0, 27.0, 42.0, 33.0, 44.0, 46.0,
             42.0, 44.0, 88.0, 45.0, 40.0, 24.0, 46.0, 47.0, 38.0, 44.0,
             42.0, 35.0, 33.0, 15.0, 13.0, 16.0, 12.0, 14.0, 27.0, 29.0,
             29.0, 13.0, 11.0, 12.0, 11.5, 13.0, 11.0, 12.5, 11.0, 12.0,
             38.0, 13.0, 33.0, 18.0, 11.0, 10.5, 11.0, 10.0, 11.0, 10.5,
             11.0, 10.0, 35.0, 24.0, 11.0, 10.5, 11.0, 10.0, 10.5, 11.0,
             11.0, 15.0, 11.0, 44.0, 24.0, 35.0, 44.0, 85.0, 48.0, 52.0,
             48.0, 24.0, 33.0, 15.0, 11.0, 11.0, 33.0, 15.0, 47.0, 44.0,
             33.0, 12.0, 11.0, 13.0, 11.0, 12.0, 11.0, 12.0, 11.0, 55.0,
             38.0, 35.0, 20.0, 22.0, 13.0, 11.0, 12.0, 11.0, 13.0, 11.0,
             27.0, 13.0, 44.0, 12.0, 11.0, 11.0, 24.0, 10.5, 11.0, 10.0,
             11.0, 10.5, 20.0, 12.0, 11.0, 11.5, 11.0, 11.5, 11.0, 10.5]
H4_10D_HI = [10.0, 11.0, 12.0, 13.0, 10.0, 24.0, 39.0, 30.0, 41.0, 43.0,
             39.0, 41.0, 65.0, 25.0, 37.0, 22.0, 43.0, 44.0, 35.0, 41.0,
             39.0, 32.0, 30.0, 14.0, 12.0, 15.0, 11.0, 13.0, 25.0, 27.0,
             27.0, 12.0, 10.0, 11.0, 10.5, 12.0, 10.0, 11.5, 10.0, 11.0,
             35.0, 12.0, 31.0, 16.5, 10.0, 9.5, 10.0, 9.0, 10.0, 9.5,
             10.0, 9.0, 33.0, 22.0, 10.0, 9.5, 10.0, 9.0, 9.5, 10.0,
             10.0, 14.0, 10.0, 41.0, 22.0, 32.0, 41.0, 49.0, 46.0, 51.0,
             46.0, 22.0, 30.0, 14.0, 10.0, 10.0, 30.0, 14.0, 46.0, 41.0,
             30.0, 11.0, 10.0, 12.0, 10.0, 11.0, 10.0, 11.0, 10.0, 20.0,
             35.0, 32.0, 18.0, 22.0, 12.0, 10.0, 11.0, 10.0, 12.0, 10.0,
             25.0, 12.0, 44.0, 11.0, 10.0, 10.0, 22.0, 9.5, 10.0, 9.0,
             10.0, 9.5, 18.0, 14.0, 16.0, 15.0, 14.0, 16.0, 15.5, 15.0]
H5_10D_HI = [9.5, 10.5, 11.5, 12.5, 9.5, 23.0, 36.0, 28.0, 38.0, 42.0,
             36.0, 38.0, 55.0, 23.0, 34.0, 21.0, 40.0, 43.0, 33.0, 38.0,
             36.0, 31.0, 29.0, 13.0, 11.0, 14.0, 10.5, 12.5, 24.0, 25.0,
             26.0, 11.5, 9.5, 10.5, 10.0, 11.5, 9.5, 11.0, 9.5, 10.5,
             33.0, 11.5, 31.0, 15.5, 9.5, 9.0, 9.5, 9.0, 9.5, 9.0,
             9.5, 9.0, 33.0, 21.0, 9.5, 9.0, 9.5, 9.0, 9.0, 9.5,
             9.5, 13.5, 9.5, 38.0, 21.0, 31.0, 40.0, 45.0, 43.0, 50.0,
             43.0, 21.0, 28.0, 13.0, 9.5, 9.5, 29.0, 14.0, 45.0, 38.0,
             28.0, 10.5, 9.5, 11.5, 9.5, 10.5, 9.5, 10.5, 9.5, 19.0,
             33.0, 31.0, 17.0, 19.0, 11.5, 9.5, 10.5, 9.5, 11.5, 9.5,
             25.0, 11.5, 42.0, 10.5, 9.5, 9.5, 21.0, 9.0, 9.5, 9.0,
             9.5, 9.0, 17.0, 10.5, 9.5, 10.0, 9.5, 10.0, 9.5, 9.0]
H6_10D_HI = [10.0, 11.0, 12.0, 13.0, 10.0, 24.0, 37.0, 29.0, 39.0, 41.0,
             37.0, 39.0, 58.0, 24.0, 35.0, 22.0, 41.0, 42.0, 34.0, 39.0,
             37.0, 31.0, 29.0, 13.5, 11.5, 14.5, 10.5, 12.5, 24.5, 26.0,
             26.5, 11.5, 10.0, 10.5, 10.0, 11.5, 9.5, 11.0, 9.5, 10.5,
             35.0, 11.5, 30.0, 15.5, 10.0, 9.5, 10.0, 9.0, 10.0, 9.5,
             10.0, 9.0, 32.0, 21.5, 10.0, 9.5, 10.0, 9.0, 9.5, 10.0,
             10.0, 14.0, 10.0, 39.0, 21.5, 31.0, 39.0, 46.0, 44.0, 49.0,
             44.0, 21.5, 29.0, 13.5, 10.0, 10.0, 29.0, 13.5, 44.0, 39.0,
             29.0, 11.0, 10.0, 11.5, 10.0, 11.0, 10.0, 11.0, 10.0, 19.5,
             34.0, 31.0, 17.5, 19.5, 11.5, 10.0, 11.0, 10.0, 11.5, 10.0,
             24.0, 11.5, 43.0, 11.0, 10.0, 10.0, 25.0, 9.5, 10.0, 9.0,
             10.0, 9.5, 17.5, 11.0, 10.0, 10.5, 10.0, 10.5, 10.0, 9.5]
SMOKE_LO_10D = [5.0, 4.8, 4.5, 4.3, 4.8, 2.5, 1.0, 2.0, 0.5, 0.3,
                1.0, 0.5, 0.2, 2.0, 0.8, 2.5, 0.5, 0.3, 1.5, 0.8,
                0.5, 1.5, 1.0, 4.0, 4.8, 4.2, 5.0, 4.5, 2.0, 1.5,
                1.5, 4.8, 5.1, 4.8, 5.0, 4.8, 5.1, 4.8, 5.0, 4.8,
                1.0, 4.2, 1.5, 3.0, 5.0, 5.2, 5.1, 5.3, 5.0, 5.2,
                5.1, 5.3, 1.0, 2.5, 5.1, 5.2, 5.0, 5.3, 5.2, 5.0,
                5.1, 3.0, 5.0, 1.0, 2.5, 1.0, 0.5, 0.3, 0.5, 0.2,
                0.5, 2.0, 1.0, 4.0, 5.0, 5.1, 1.5, 3.0, 0.5, 1.0,
                1.5, 4.8, 5.0, 4.8, 5.1, 4.8, 5.0, 4.8, 5.1, 2.5,
                1.0, 1.5, 3.0, 2.5, 4.8, 5.1, 4.8, 5.0, 4.8, 5.1,
                1.5, 4.8, 0.5, 4.8, 5.1, 5.0, 2.0, 5.2, 5.1, 5.3,
                5.0, 5.2, 2.0, 4.8, 4.5, 4.8, 5.0, 4.5, 4.8, 5.0]

MD_10D = ["9.7", "10.4", "11.7", "11.3", "10.4", "10.6", "1.4"]
LS_10D = ["0.3", "0.3", "0.3", "0.3", "3.7", "0.2", "0.1"]
SD_10D = ["6.1", "6.2", "6.8", "7.0", "6.4", "6.4", "0.1"]
AM_10D = ["841.6", "897.0", "837.3", "926.2", "908.9", "915.2", "1.4"]
AMU_10D = ["m", "m", "m", "m", "m", "m", ""]

# ---------------- assemble ----------------
def X(px):
    return px / W

def Y(py):
    return 1 - py / H

PANELS = [
    dict(start=P1_START, freq=P1_FREQ,
         med=[H1_3H_MED, H2_3H_MED, H3_3H_MED, H4_3H_MED, H5_3H_MED, H6_3H_MED, LG_3H_MED],
         hi=[H1_3H_HI, H2_3H_HI, H3_3H_HI, H4_3H_HI, H5_3H_HI, H6_3H_HI, LG_3H_HI],
         lo=[H1_3H_LO, H2_3H_LO, H3_3H_LO, H4_3H_LO, H5_3H_LO, H6_3H_LO, LG_3H_LO],
         stats=(MD_3H, LS_3H, SD_3H, AM_3H, AMU_3H), lw=1.5, op=0.14),
    dict(start=P2_START, freq=P2_FREQ,
         med=[H1_30H_MED, H2_30H_MED, H3_30H_MED, H4_30H_MED, H5_30H_MED, H6_30H_MED, LG_30H_MED],
         hi=[H1_30H_HI, H2_30H_HI, H3_30H_HI, H4_30H_HI, H5_30H_HI, H6_30H_HI],
         lo=[SMOKE_LO_30H] * 6,
         stats=(MD_30H, LS_30H, SD_30H, AM_30H, AMU_30H), lw=1.2, op=0.14),
    dict(start=P3_START, freq=P3_FREQ,
         med=[H1_10D_MED, H2_10D_MED, H3_10D_MED, H4_10D_MED, H5_10D_MED, H6_10D_MED, LG_10D_MED],
         hi=[H1_10D_HI, H2_10D_HI, H3_10D_HI, H4_10D_HI, H5_10D_HI, H6_10D_HI],
         lo=[SMOKE_LO_10D] * 6,
         stats=(MD_10D, LS_10D, SD_10D, AM_10D, AMU_10D), lw=1.2, op=0.14),
]

fig = go.Figure()
shapes, annos = [], []
NB = "\u00a0"
ROW0, ROWH = 293.0, 15.4

for k, p in enumerate(PANELS):
    o = 430 * k
    xa = "x" if k == 0 else f"x{k+1}"
    ya = "y" if k == 0 else f"y{k+1}"
    step = pd.Timedelta(p["freq"])
    wms = step / pd.Timedelta("1ms")
    for h, (hi, lo) in enumerate(zip(p["hi"], p["lo"])):
        n = min(len(hi), len(lo))
        t = pd.date_range(p["start"], periods=n, freq=p["freq"])
        fig.add_trace(go.Bar(x=t, y=[hi[i] - lo[i] for i in range(n)], base=lo[:n],
                             width=wms, offset=0, xaxis=xa, yaxis=ya,
                             marker=dict(color=COLORS[h], line=dict(width=0)),
                             opacity=p["op"], hoverinfo="skip", showlegend=False))
    for h, med in enumerate(p["med"]):
        t = pd.date_range(p["start"], periods=len(med), freq=p["freq"])
        xs = list(t) + [t[-1] + step]
        ys = list(med) + [med[-1]]
        fig.add_trace(go.Scatter(x=xs, y=ys, mode="lines", line=dict(color=COLORS[h], width=p["lw"], shape="hv"),
                                 xaxis=xa, yaxis=ya, hoverinfo="skip", showlegend=False))

    shapes.append(dict(type="rect", xref="paper", yref="paper", x0=X(24), x1=X(789), y0=Y(414 + o), y1=Y(8 + o),
                       fillcolor="#f3f3f3", line=dict(color="#d2d2d2", width=1), layer="below"))
    shapes.append(dict(type="line", xref="paper", yref="paper", x0=X(789), x1=X(789), y0=Y(415 + o), y1=Y(9 + o),
                       line=dict(color="#9c9c9c", width=2), layer="below"))
    shapes.append(dict(type="line", xref="paper", yref="paper", x0=X(25), x1=X(790), y0=Y(415 + o), y1=Y(415 + o),
                       line=dict(color="#9c9c9c", width=2), layer="below"))
    shapes.append(dict(type="line", xref="paper", yref="paper", x0=X(97), x1=X(97), y0=Y(265 + o), y1=Y(41 + o),
                       line=dict(color="#4a4a4a", width=1)))
    shapes.append(dict(type="line", xref="paper", yref="paper", x0=X(97), x1=X(760), y0=Y(265 + o), y1=Y(265 + o),
                       line=dict(color="#4a4a4a", width=1)))
    shapes.append(dict(type="path", xref="paper", yref="paper",
                       path=f"M {X(97)},{Y(37 + o)} L {X(94)},{Y(43 + o)} L {X(100)},{Y(43 + o)} Z",
                       fillcolor="#b01010", line=dict(color="#b01010", width=0.5)))
    shapes.append(dict(type="path", xref="paper", yref="paper",
                       path=f"M {X(764)},{Y(265 + o)} L {X(758)},{Y(262 + o)} L {X(758)},{Y(268 + o)} Z",
                       fillcolor="#b01010", line=dict(color="#b01010", width=0.5)))

    annos.append(dict(text=TITLES[k], x=X(406), y=Y(23 + o), xref="paper", yref="paper", showarrow=False,
                      xanchor="center", yanchor="middle", font=dict(family=MONO, size=14.5, color="#222")))
    annos.append(dict(text=Y_TITLE, x=X(36), y=Y(154 + o), xref="paper", yref="paper", showarrow=False,
                      textangle=-90, xanchor="center", yanchor="middle", font=dict(family=MONO, size=12, color="#333")))
    annos.append(dict(text=CREDIT, x=X(779), y=Y(73 + o), xref="paper", yref="paper", showarrow=False,
                      textangle=90, xanchor="center", yanchor="middle", font=dict(family=MONO, size=8.6, color="#b8b8b8")))

    md, ls, sd, am, amu = p["stats"]
    for r, name in enumerate(HOSTS):
        yy = ROW0 + ROWH * r + o
        shapes.append(dict(type="rect", xref="paper", yref="paper", x0=X(41.5), x1=X(50.5), y0=Y(yy + 5), y1=Y(yy - 5),
                           fillcolor=COLORS[r], line=dict(color="#1a1a1a", width=1)))
        cols = [(name, 57, "left"),
                (f"{md[r]} ms av md", 335, "right"),
                (f"{ls[r]} % av ls", 462, "right"),
                (f"{sd[r]} ms sd", 563, "right"),
                (f"{am[r]}{NB}{amu[r] if amu[r] else NB}{NB}am/as", 680, "right")]
        for txt, xx, anc in cols:
            annos.append(dict(text=txt.replace(" ", NB), x=X(xx), y=Y(yy), xref="paper", yref="paper", showarrow=False,
                              xanchor=anc, yanchor="middle", font=dict(family=MONO, size=12.7, color="#222")))
    yy = ROW0 + ROWH * 7 + o
    annos.append(dict(text=FOOTER_LEFT.replace(" ", NB), x=X(41.5), y=Y(yy), xref="paper", yref="paper", showarrow=False,
                      xanchor="left", yanchor="middle", font=dict(family=MONO, size=12.7, color="#222")))
    annos.append(dict(text=FOOTER_RIGHT.replace(" ", NB), x=X(772), y=Y(yy), xref="paper", yref="paper", showarrow=False,
                      xanchor="right", yanchor="middle", font=dict(family=MONO, size=12.7, color="#222")))

for d, lab in zip(P3_DAYS, P3_DAY_LABELS):
    annos.append(dict(text=lab, x=pd.Timestamp(d) + pd.Timedelta("12h"), y=Y(276 + 860), xref="x3", yref="paper",
                      showarrow=False, xanchor="center", yanchor="middle",
                      font=dict(family=MONO, size=10.5, color="#333")))

MAJ = dict(showgrid=True, gridcolor="rgba(235,70,70,0.42)", griddash="2px,2px", gridwidth=1,
           zeroline=False, showline=False, ticks="outside", ticklen=2, tickcolor="#666",
           tickfont=dict(family=MONO, size=10.5, color="#333"), fixedrange=True)
MIN = dict(showgrid=True, gridcolor="rgba(160,150,150,0.30)", griddash="1px,2px", gridwidth=1)

xdom = [X(97), X(757)]
ydoms = [[Y(265 + 430 * k), Y(43 + 430 * k)] for k in range(3)]

fig.update_layout(
    width=W, height=H, margin=dict(l=0, r=0, t=0, b=0),
    paper_bgcolor="white", plot_bgcolor="white", showlegend=False,
    barmode="overlay", bargap=0,
    shapes=shapes, annotations=annos,
    xaxis=dict(domain=xdom, anchor="y", type="date", range=P1_RANGE, tick0=P1_TICK0, dtick=20 * 60 * 1000,
               tickformat="%H:%M", minor=dict(dtick=5 * 60 * 1000, tick0=P1_TICK0, **MIN), **MAJ),
    yaxis=dict(domain=ydoms[0], anchor="x", range=[0, 24.55], tickmode="array", tickvals=Y1_TICKS, ticktext=Y1_TEXT,
               minor=dict(dtick=1, tick0=0, **MIN), ticklabelstandoff=2, **MAJ),
    xaxis2=dict(domain=xdom, anchor="y2", type="date", range=P2_RANGE, tickmode="array", tickvals=P2_TICKS,
                ticktext=P2_TICKTEXT, minor=dict(dtick=3600 * 1000, tick0="2019-09-17 12:00", **MIN), **MAJ),
    yaxis2=dict(domain=ydoms[1], anchor="x2", range=[0, 87.06], tickmode="array", tickvals=Y2_TICKS, ticktext=Y2_TEXT,
                minor=dict(dtick=5, tick0=0, **MIN), ticklabelstandoff=2, **MAJ),
    xaxis3=dict(domain=xdom, anchor="y3", type="date", range=P3_RANGE, tickmode="array", tickvals=P3_DAYS,
                ticktext=[""] * len(P3_DAYS), minor=dict(dtick=6 * 3600 * 1000, tick0="2019-09-09", **MIN), **MAJ),
    yaxis3=dict(domain=ydoms[2], anchor="x3", range=[0, 87.06], tickmode="array", tickvals=Y2_TICKS, ticktext=Y2_TEXT,
                minor=dict(dtick=5, tick0=0, **MIN), ticklabelstandoff=2, **MAJ),
)

fig.write_html("out.html", config={"displayModeBar": False},
               post_script="document.body.style.margin='0px';document.body.style.overflow='hidden';")
